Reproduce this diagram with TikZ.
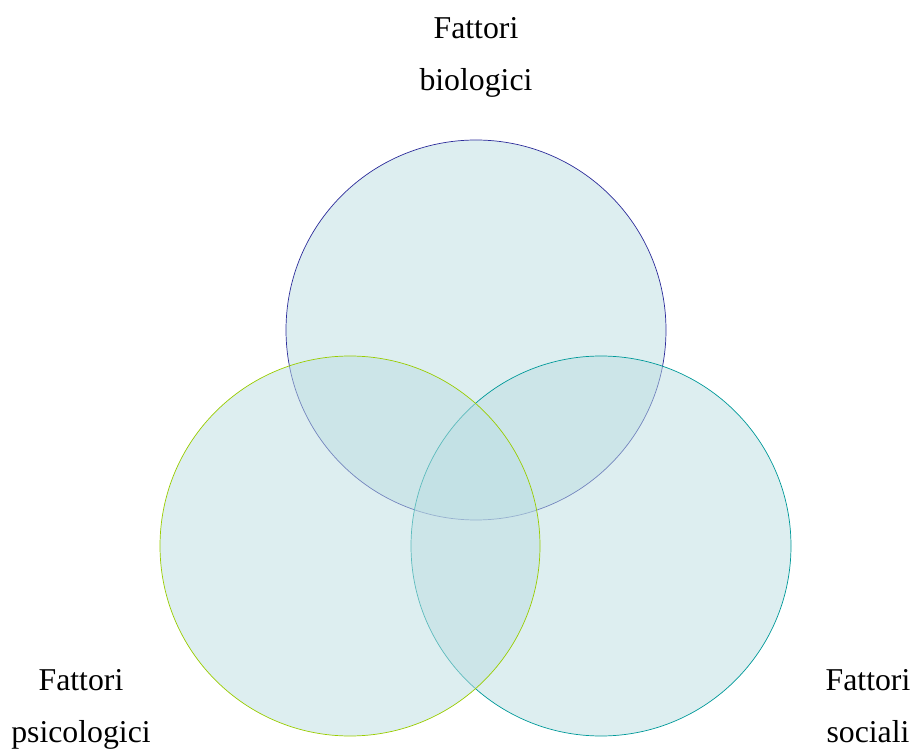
\documentclass[tikz,border=0pt]{standalone}
\usepackage{fontspec}
\setmainfont{Liberation Serif}
\usetikzlibrary{calc}
\definecolor{vennfill}{RGB}{187,221,225}
\definecolor{biocol}{RGB}{45,45,155}
\definecolor{psicol}{RGB}{153,204,0}
\definecolor{soccol}{RGB}{0,153,153}
\tikzset{
	venn/.style={circle, minimum size=380*0.025cm, inner sep=0pt, fill=vennfill, fill opacity=0.5, draw opacity=1, line width=0.5pt},
	fattori/.style={align=center, font=\fontsize{22.6}{37}\selectfont}
}

\begin{document}
\begin{tikzpicture}[x=0.025cm, y=0.025cm]
			%%%%% START %%%%%
			
			\useasboundingbox (0, 0) rectangle (914, 751);
			
			\node[venn, draw=biocol] (bio) at (476, 421) {};
			\node[venn, draw=soccol] (soc) at (601, 205) {};
			\node[venn, draw=psicol] (psi) at (350, 205) {};
			
			\node[fattori] (biotxt) at (476, 694) {Fattori\\biologici};
			\node[fattori] (psitxt) at (81, 42) {Fattori\\psicologici};
			\node[fattori] (soctxt) at (868, 45) {Fattori\\sociali};
			
			%%%%% END %%%%%
\end{tikzpicture}
\end{document}
